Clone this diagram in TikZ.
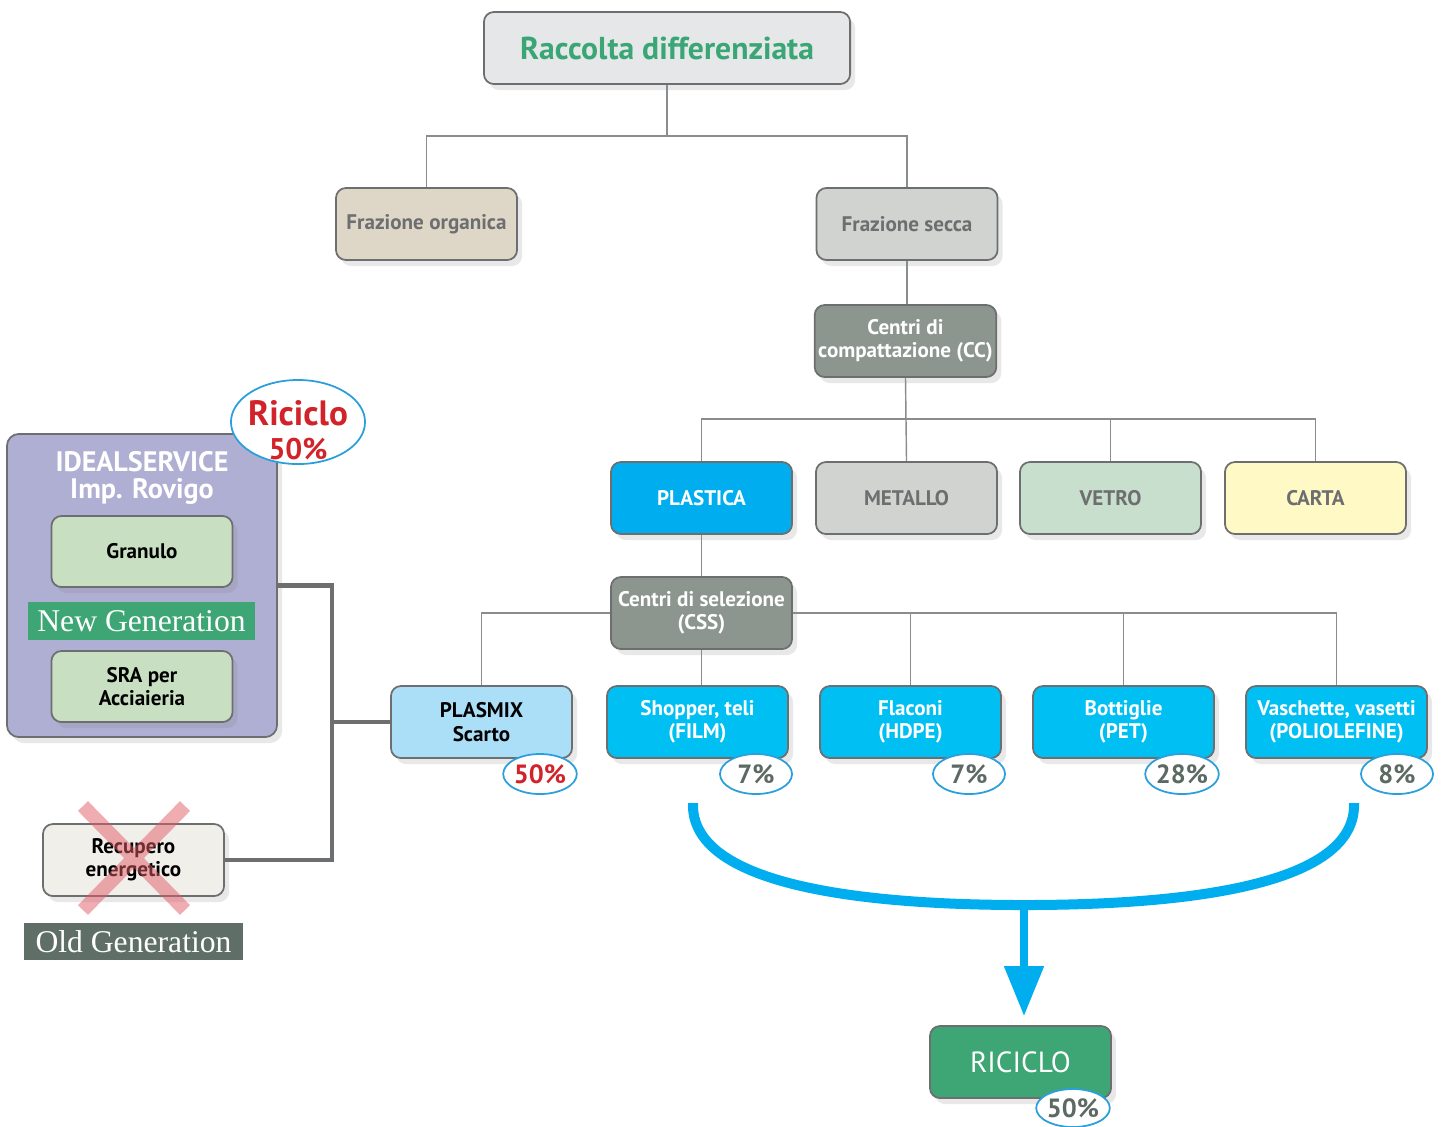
\documentclass[tikz,border=0pt]{standalone}
\usepackage{fontspec}
\setmainfont{PT Sans}
\newfontfamily\gen{Liberation Serif}
\usetikzlibrary{positioning}
\usetikzlibrary{shapes.geometric, shadows, arrows.meta}

\definecolor{boxline}{HTML}{6D6E70}
\definecolor{treeline}{HTML}{8A8C8E}
\definecolor{linkgray}{HTML}{6D6E70}
\definecolor{txtgray}{HTML}{6D6E70}
\definecolor{pctgray}{HTML}{5C6A63}
\definecolor{pctblue}{HTML}{2A9FDB}
\definecolor{ricred}{HTML}{D2232A}
\definecolor{topgray}{HTML}{E6E7E8}
\definecolor{topgreen}{HTML}{3AA675}
\definecolor{orgbeige}{HTML}{DED6C6}
\definecolor{seccagray}{HTML}{D1D3D0}
\definecolor{centrigray}{HTML}{8C968E}
\definecolor{plablue}{HTML}{00AEEF}
\definecolor{vetgreen}{HTML}{C9DFCD}
\definecolor{cartayellow}{HTML}{FFF9C5}
\definecolor{pmxblue}{HTML}{ABDFF8}
\definecolor{subblue}{HTML}{00BFF3}
\definecolor{ricgreen}{HTML}{3EA675}
\definecolor{idsviolet}{HTML}{AFAFD3}
\definecolor{pale}{HTML}{C9DFC2}
\definecolor{recbeige}{HTML}{F1EFEA}
\definecolor{oldgray}{HTML}{5F6E66}
\definecolor{xred}{HTML}{E05A64}

\tikzset{
  box/.style={rectangle, rounded corners=0.1cm, draw=boxline, line width=0.5pt,
    minimum width=1.81cm, minimum height=0.72cm, align=center, inner sep=1pt,
    font=\bfseries\fontsize{6}{6.6}\selectfont,
    drop shadow={opacity=0.18, shadow xshift=0.05cm, shadow yshift=-0.06cm}},
  tree/.style={draw=treeline, line width=0.4pt},
  link/.style={draw=linkgray, line width=1.3pt},
  pct/.style={ellipse, draw=pctblue, fill=white, line width=0.5pt,
    minimum width=0.72cm, minimum height=0.4cm, inner sep=0pt,
    text=pctgray, font=\bfseries\fontsize{7.5}{8}\selectfont},
  band/.style={rectangle, text=white, inner sep=0pt, minimum height=0.38cm,
    font=\gen\fontsize{9}{9}\selectfont}
}

\begin{document}
\begin{tikzpicture}[x=0.01cm, y=-0.01cm]
\useasboundingbox (0,0) rectangle (1443,1126);

\node[box, fill=topgray, text=topgreen, minimum width=3.66cm, font=\bfseries\fontsize{9}{10}\selectfont] (rd) at (667,48) {Raccolta differenziata};
\node[box, fill=orgbeige, text=txtgray] (forg) at (426.5,224) {Frazione organica};
\node[box, fill=seccagray, text=txtgray] (fsec) at (907,224) {Frazione secca};
\node[box, fill=centrigray, text=white] (cc) at (905.5,341) {Centri di\\compattazione (CC)};

\node[box, fill=plablue, text=white] (pla) at (701.5,498) {PLASTICA};
\node[box, fill=seccagray, text=txtgray] (met) at (906.5,498) {METALLO};
\node[box, fill=vetgreen, text=txtgray] (vet) at (1110.5,498) {VETRO};
\node[box, fill=cartayellow, text=txtgray] (car) at (1315.5,498) {CARTA};

\node[box, fill=centrigray, text=white] (css) at (701.5,613) {Centri di selezione\\(CSS)};

\node[box, fill=pmxblue, text=black] (pmx) at (481.5,722) {PLASMIX\\Scarto};
\node[box, fill=subblue, text=white] (shp) at (697.5,722) {Shopper, teli\\(FILM)};
\node[box, fill=subblue, text=white] (fla) at (910.5,722) {Flaconi\\(HDPE)};
\node[box, fill=subblue, text=white] (bot) at (1123.5,722) {Bottiglie\\(PET)};
\node[box, fill=subblue, text=white] (vas) at (1336.5,722) {Vaschette, vasetti\\(POLIOLEFINE)};

\node[pct, text=ricred] (p50) at (540,774) {50\%};
\node[pct] (p7a) at (756,774) {7\%};
\node[pct] (p7b) at (969,774) {7\%};
\node[pct] (p28) at (1182,774) {28\%};
\node[pct] (p8) at (1397,774) {8\%};

\node[box, fill=ricgreen, text=white, font=\fontsize{8.3}{9}\selectfont] (ric) at (1020.5,1062) {RICICLO};
\node[pct, minimum height=0.38cm] (p50r) at (1073,1108) {50\%};

\node[box, fill=idsviolet, minimum width=2.7cm, minimum height=3.03cm, rounded corners=0.12cm] (ids) at (142,585.5) {};
\node[text=white, align=center, font=\bfseries\fontsize{8}{7.7}\selectfont] (idt) at (142,478) {IDEALSERVICE\\Imp. Rovigo};
\node[box, fill=pale, text=black, minimum height=0.71cm] (gra) at (142,551.5) {Granulo};
\node[band, fill=ricgreen, minimum width=2.27cm] (newg) at (141.5,621) {New Generation};
\node[box, fill=pale, text=black, minimum height=0.71cm] (sra) at (142,686.5) {SRA per\\Acciaieria};
\node[ellipse, draw=pctblue, fill=white, line width=0.5pt, minimum width=1.34cm, minimum height=0.84cm, inner sep=0pt] (rcl) at (298,422) {};
\node[align=center, text=ricred, inner sep=0pt, font=\bfseries\fontsize{10}{9.6}\selectfont] (rclt) at (298,430) {Riciclo\\{\fontsize{8.5}{8.5}\selectfont 50\%}};

\node[box, fill=recbeige, text=black] (rec) at (133.5,860) {Recupero\\energetico};
\draw[xred, opacity=0.5, line width=0.14cm] (83,806) -- (185,910) (185,806) -- (83,910);
\node[band, fill=oldgray, minimum width=2.19cm, minimum height=0.37cm] (oldg) at (133.5,941.5) {Old Generation};

\draw[tree] (rd.south) -- +(0,51) -| (forg.north);
\draw[tree] (rd.south) -- +(0,51) -| (fsec.north);
\draw[tree] (fsec.south) -- (fsec.south |- cc.north);
\draw[tree] (cc.south) -- +(0,41) -| (pla.north);
\draw[tree] (cc.south) -- (met.north);
\draw[tree] (cc.south) -- +(0,41) -| (vet.north);
\draw[tree] (cc.south) -- +(0,41) -| (car.north);
\draw[tree] (pla.south) -- (css.north);
\draw[tree] (css.west) -| (pmx.north);
\draw[tree] (css.east) -| (vas.north);
\draw[tree] (css.east) -| (fla.north);
\draw[tree] (css.east) -| (bot.north);
\draw[tree] (css.south) -- (css.south |- shp.north);

\coordinate (bus) at (332,722);
\draw[link] (ids.east) -| (bus) -- (pmx.west);
\draw[link] (rec.east) -| (bus);

\coordinate (cl) at (693,803);
\coordinate (cr) at (1354,803);
\coordinate (mg) at (1024,905);
\draw[plablue, line width=0.1cm] (cl) .. controls (690,885) and (860,905) .. (mg) .. controls (1188,905) and (1357,885) .. (cr);
\draw[plablue, line width=0.08cm, -{Triangle[width=0.38cm,length=0.5cm]}, shorten >=0.09cm] (mg) -- (mg |- ric.north);

\end{tikzpicture}
\end{document}
